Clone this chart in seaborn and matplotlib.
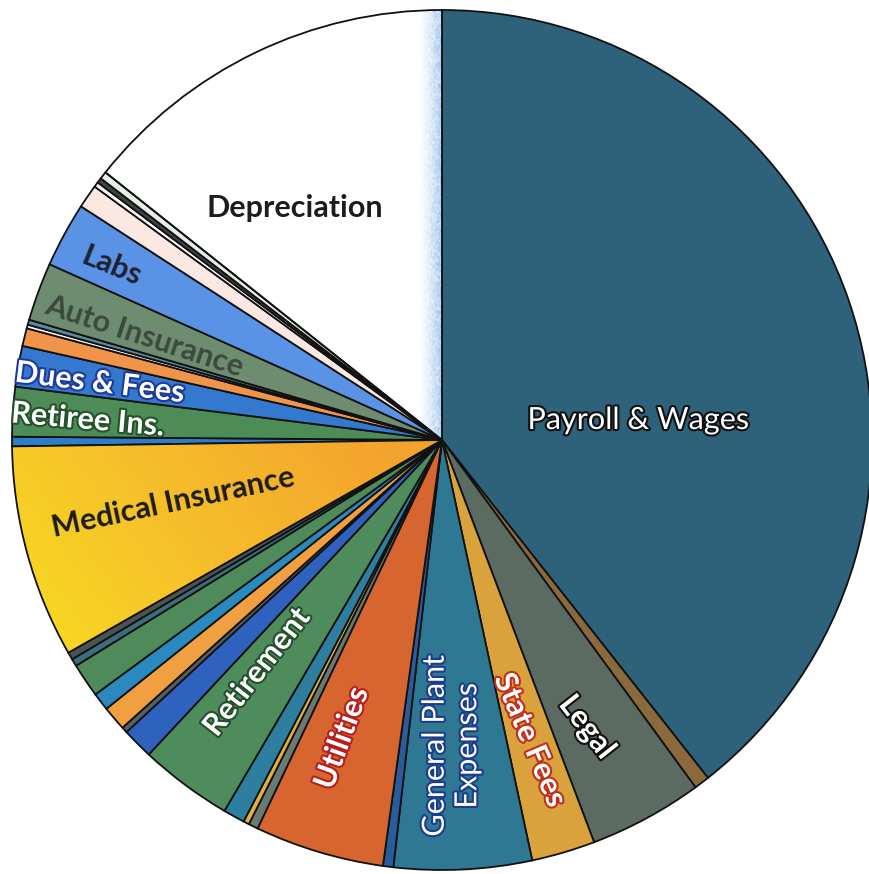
import numpy as np
import matplotlib
matplotlib.use("Agg")
import matplotlib.pyplot as plt
import matplotlib.patheffects as pe
from matplotlib.colors import LinearSegmentedColormap
import seaborn as sns

# Expense categories, clockwise from 12 o'clock (share of total, %)
categories = [
    "Payroll & Wages", "Insurance Deductible", "Legal", "State Fees",
    "General Plant Expenses", "Permits", "Utilities", "Postage", "Bank Fees",
    "Telephone", "Retirement", "Office Supplies", "Printing", "Training",
    "Safety Equipment", "Vehicle Maintenance", "Advertising", "Meters",
    "Medical Insurance", "Uniforms", "Retiree Ins.", "Dues & Fees",
    "Engineering", "Travel", "Software", "Auto Insurance", "Labs",
    "Chemicals", "Audit", "Interest", "Miscellaneous", "Depreciation",
]
shares = [
    39.39, 0.58, 4.28, 2.39,
    5.17, 0.39, 4.86, 0.36, 0.22,
    0.81, 3.50, 1.17, 0.22, 0.92,
    0.67, 1.28, 0.28, 0.28,
    8.00, 0.36, 1.86, 1.53,
    0.67, 0.14, 0.19, 2.19, 2.44,
    0.89, 0.19, 0.19, 0.28, 14.31,
]
slice_colors = [
    "#2e617a", "#8a6a3c", "#5b6b62", "#d9a23c",
    "#2f7893", "#2a5c9c", "#d6652f", "#6a7a70", "#e0b040",
    "#2e7ea0", "#4e8c5c", "#2f62be", "#556060", "#f0a040",
    "#2a8ac0", "#4e8a5a", "#3a6e7e", "#4a5550",
    "#f5b526", "#2f7cc8", "#4d8c56", "#3478d0",
    "#f0944a", "#f2f2f2", "#5a8a9a", "#6e8c70", "#5a93e5",
    "#fbe8e2", "#ffffff", "#404444", "#e6efe6", "#ffffff",
]

# Labels drawn on the pie: (text, x, y in axes fraction, rotation, fill, outline, weight)
label_specs = [
    ("Depreciation", 295 / 870, 1 - 208 / 874, 0, "#1c1c1c", None, "bold"),
    ("Payroll & Wages", 638 / 870, 1 - 420 / 874, 0, "white", "#111111", "normal"),
    ("Labs", 112 / 870, 1 - 266 / 874, -22, "#1e2230", None, "bold"),
    ("Auto Insurance", 144 / 870, 1 - 336 / 874, -18, "#3c4a3e", None, "bold"),
    ("Dues & Fees", 100 / 870, 1 - 383 / 874, -7, "white", "#1d3c9a", "bold"),
    ("Retiree Ins.", 88 / 870, 1 - 420 / 874, -5, "white", "#24522a", "bold"),
    ("Medical Insurance", 173 / 870, 1 - 502 / 874, 12, "#1c1c1c", None, "bold"),
    ("Retirement", 257 / 870, 1 - 672 / 874, 52, "white", "#25502c", "bold"),
    ("Utilities", 342 / 870, 1 - 738 / 874, 70, "white", "#b81e1e", "bold"),
    ("General Plant\nExpenses", 451 / 870, 1 - 746 / 874, 90, "white", "#1c3c8c", "normal"),
    ("State Fees", 530 / 870, 1 - 740 / 874, -67, "white", "#c0301c", "bold"),
    ("Legal", 587 / 870, 1 - 727 / 874, -52, "white", "#111111", "bold"),
]

sns.set_theme(style="white")
plt.rcParams["font.family"] = ["Lato", "DejaVu Sans"]

fig = plt.figure(figsize=(8.70, 8.74), dpi=100)
fig.patch.set_facecolor("white")
ax = fig.add_axes([0, 0, 1, 1])

wedges, _ = ax.pie(
    shares,
    colors=slice_colors,
    startangle=90,
    counterclock=False,
    radius=1.0,
    center=(0, 0),
    wedgeprops=dict(edgecolor="#111111", linewidth=1.3),
)

# Pie centre sits slightly left of the figure middle; the disc touches the edges
px = 430.0
ax.set_xlim(-442 / px, (870 - 442) / px)
ax.set_ylim(-(874 - 440) / px, 440 / px)
ax.set_aspect("auto")
ax.axis("off")

# Yellow-to-orange shading on the medical insurance slice
med = wedges[categories.index("Medical Insurance")]
cmap = LinearSegmentedColormap.from_list("med", ["#f7e21f", "#f6c02a", "#f3a22e"])
gx, gy = np.meshgrid(np.linspace(0, 1, 200), np.linspace(0, 1, 200))
grad = np.clip(0.75 * gx + 0.35 * gy, 0, 1)
img = ax.imshow(grad, cmap=cmap, extent=(-1.03, 0.0, -0.6, 0.05),
                origin="lower", zorder=1.5, aspect="auto")
img.set_clip_path(med)
med.set_facecolor("none")
med.set_zorder(2)

# Speckled light blue bleed along the right edge of the depreciation slice
dep = wedges[categories.index("Depreciation")]
rng = np.random.default_rng(7)
bx, by = np.meshgrid(np.linspace(0, 1, 24), np.linspace(0, 1, 220))
haze = np.zeros((220, 24, 4))
haze[..., 0] = 0.58
haze[..., 1] = 0.74
haze[..., 2] = 0.93
speckle = rng.random((220, 24))
haze[..., 3] = np.clip(bx ** 1.6 * (0.35 + 0.8 * speckle), 0, 0.85)
himg = ax.imshow(haze, extent=(-0.06, 0.0, 0.0, 1.0), origin="lower",
                 zorder=1.5, aspect="auto", interpolation="bilinear")
himg.set_clip_path(dep)
dep.set_facecolor("none")
dep.set_zorder(2)

for text, x, y, rot, color, outline, weight in label_specs:
    t = ax.text(x, y, text, transform=ax.transAxes, rotation=rot,
                rotation_mode="anchor", ha="center", va="center",
                fontsize=22, color=color, fontweight=weight,
                linespacing=1.2, multialignment="center", zorder=5)
    if outline:
        t.set_path_effects([pe.withStroke(linewidth=3, foreground=outline)])

fig.savefig("out.png", dpi=100, facecolor="white")
